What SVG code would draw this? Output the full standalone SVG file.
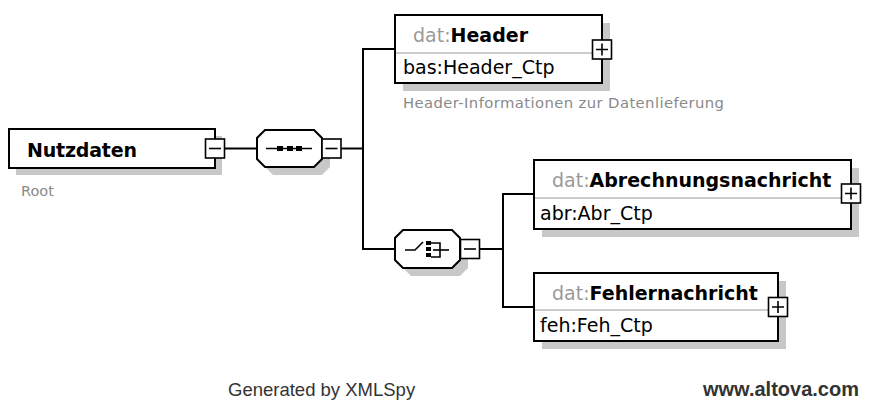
<svg xmlns="http://www.w3.org/2000/svg" width="870" height="401" viewBox="0 0 870 401">
<style>
.box{fill:#fff;stroke:#000;stroke-width:2}
.shadow{fill:#c8c8c8}
.div{stroke:#999;stroke-width:1}
.btn{fill:#fff;stroke:#000;stroke-width:1.6}
.sym{stroke:#000;stroke-width:1.6;fill:none}
.con{stroke:#000;stroke-width:2;fill:none}
.t{font-family:"DejaVu Sans","Open Sans",sans-serif;fill:#000}
.g{fill:#999}
.b{font-weight:bold}
.desc{font-family:"DejaVu Sans","Open Sans",sans-serif;fill:#8a8a8a}
.foot{font-family:"Liberation Sans",Arial,sans-serif;fill:#333}
</style>
<rect width="870" height="401" fill="#fff"/>
<g id="connectors">
<line class="con" x1="224" y1="148.5" x2="257" y2="148.5"/>
<line class="con" x1="341" y1="148.5" x2="363" y2="148.5"/>
<polyline class="con" points="395,49 363,49 363,249 395,249"/>
<line class="con" x1="479" y1="249" x2="503" y2="249"/>
<polyline class="con" points="534,194 503,194 503,307 534,307"/>
</g>
<g id="Nutzdaten">
<rect class="shadow" x="16" y="136" width="206" height="39"/>
<rect class="box" x="9" y="129" width="206" height="39"/>
<text class="t b" x="27" y="157" font-size="19" textLength="110">Nutzdaten</text>
<rect class="btn" x="205.5" y="139" width="19" height="19"/>
<line class="sym" x1="209" y1="148.5" x2="221" y2="148.5"/>
<text class="desc" x="21" y="196" font-size="14.5">Root</text>
</g>
<g id="sequence">
<polygon class="shadow" points="273,138 322,138 330,146 330,167 322,175 273,175 265,167 265,146"/>
<polygon class="box" points="265,130 314,130 322,138 322,159 314,167 265,167 257,159 257,138"/>
<line class="sym" x1="266" y1="148.5" x2="312" y2="148.5"/>
<rect x="277" y="146" width="6" height="5" fill="#000"/>
<rect x="287" y="146" width="6" height="5" fill="#000"/>
<rect x="296" y="146" width="6" height="5" fill="#000"/>
<rect class="btn" x="322" y="139" width="19" height="19"/>
<line class="sym" x1="325.5" y1="148.5" x2="337.5" y2="148.5"/>
</g>
<g id="Header">
<rect class="shadow" x="403" y="23" width="207" height="68"/>
<rect class="box" x="395" y="15" width="207" height="68"/>
<line class="div" x1="396" y1="53" x2="601" y2="53"/>
<text class="t" x="413" y="42" font-size="19"><tspan class="g">dat:</tspan><tspan class="b">Header</tspan></text>
<text class="t" x="403" y="74" font-size="19">bas:Header_Ctp</text>
<rect class="btn" x="592.5" y="40" width="19" height="19"/>
<path class="sym" d="M596 49.5H608M602 43.5V55.5"/>
<text class="desc" x="403" y="108" font-size="14.8" textLength="321">Header-Informationen zur Datenlieferung</text>
</g>
<g id="choice">
<polygon class="shadow" points="411,238 460,238 468,246 468,268 460,276 411,276 403,268 403,246"/>
<polygon class="box" points="403,230 452,230 460,238 460,260 452,268 403,268 395,260 395,238"/>
<polyline class="sym" points="405,250 415,250 423,242"/>
<rect x="426" y="241" width="5" height="4" fill="#000"/>
<rect x="426" y="247" width="5" height="4" fill="#000"/>
<rect x="426" y="253" width="5" height="4" fill="#000"/>
<polyline class="sym" points="431,243 440,243 440,257 431,257"/>
<line class="sym" x1="433" y1="250" x2="449" y2="250"/>
<rect class="btn" x="460.5" y="239.5" width="19" height="19"/>
<line class="sym" x1="464" y1="249" x2="476" y2="249"/>
</g>
<g id="Abrechnungsnachricht">
<rect class="shadow" x="542" y="168" width="317" height="69"/>
<rect class="box" x="534" y="160" width="317" height="69"/>
<line class="div" x1="535" y1="198" x2="850" y2="198"/>
<text class="t" x="552" y="187" font-size="19"><tspan class="g">dat:</tspan><tspan class="b">Abrechnungsnachricht</tspan></text>
<text class="t" x="540" y="220" font-size="19">abr:Abr_Ctp</text>
<rect class="btn" x="841.5" y="184" width="19" height="19"/>
<path class="sym" d="M845 193.5H857M851 187.5V199.5"/>
</g>
<g id="Fehlernachricht">
<rect class="shadow" x="542" y="281" width="244" height="68"/>
<rect class="box" x="534" y="273" width="244" height="68"/>
<line class="div" x1="535" y1="310" x2="777" y2="310"/>
<text class="t" x="552" y="300" font-size="19"><tspan class="g">dat:</tspan><tspan class="b">Fehlernachricht</tspan></text>
<text class="t" x="540" y="332" font-size="19">feh:Feh_Ctp</text>
<rect class="btn" x="768.5" y="297.5" width="19" height="19"/>
<path class="sym" d="M772 307H784M778 301V313"/>
</g>
<g id="footer">
<text class="foot" x="228" y="396" font-size="18.5">Generated by XMLSpy</text>
<text class="foot" x="703" y="396" font-size="20" font-weight="bold">www.altova.com</text>
</g>
</svg>
